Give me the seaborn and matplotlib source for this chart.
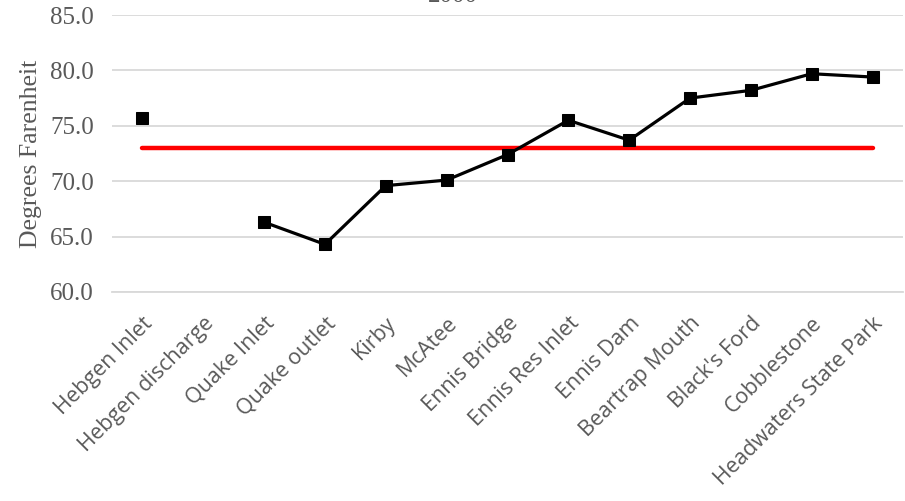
import numpy as np
import pandas as pd
import matplotlib
matplotlib.use("Agg")
import matplotlib.pyplot as plt
import seaborn as sns

# ---- data ----
categories = ["Hebgen Inlet", "Hebgen discharge", "Quake Inlet", "Quake outlet",
              "Kirby", "McAtee", "Ennis Bridge", "Ennis Res Inlet", "Ennis Dam",
              "Beartrap Mouth", "Black's Ford", "Cobblestone", "Headwaters State Park"]
temps = [75.7, np.nan, 66.3, 64.3, 69.6, 70.1, 72.4, 75.5, 73.7, 77.5, 78.2, 79.7, 79.4]
threshold = 73.0
title = "2000"
y_label = "Degrees Farenheit"
y_ticks = [60.0, 65.0, 70.0, 75.0, 80.0, 85.0]

sns.set_theme(style="white")
plt.rcParams["font.family"] = ["Liberation Serif", "DejaVu Serif"]

pos = np.arange(len(categories))
vals = np.array(temps, dtype=float)
seg = np.cumsum(np.isnan(vals))
df = pd.DataFrame({"pos": pos, "temp": vals, "seg": seg, "category": categories})
df_thr = pd.DataFrame({"pos": pos, "thr": [threshold] * len(categories)})

fig = plt.figure(figsize=(9.05, 5.01), dpi=100)
ax = fig.add_axes([112 / 905, 1 - 292 / 501, (903 - 112) / 905, (292 - 15) / 501])

grid_c = "#D9D9D9"
text_c = "#595959"

sns.lineplot(data=df_thr, x="pos", y="thr", ax=ax, color="#FF0000", linewidth=3.2,
             solid_capstyle="round", zorder=2)
sns.lineplot(data=df.dropna(), x="pos", y="temp", units="seg", estimator=None, ax=ax,
             color="black", linewidth=2.3, marker="s", markersize=8.5,
             markeredgecolor="black", zorder=3)

ax.set_xlim(-0.5, len(categories) - 0.5)
ax.set_ylim(y_ticks[0], y_ticks[-1])
ax.set_yticks(y_ticks)
ax.set_yticklabels([f"{t:.1f}" for t in y_ticks], fontsize=18, color=text_c,
                   family=["Liberation Serif"])
ax.yaxis.grid(True, color=grid_c, linewidth=1.3)
ax.set_axisbelow(True)

ax.set_xticks(pos)
ax.set_xticklabels(categories, rotation=45, ha="right", rotation_mode="anchor",
                   fontsize=15.5, color=text_c, family=["Open Sans", "DejaVu Sans"])
ax.tick_params(axis="x", which="major", length=0, pad=15)
ax.set_xticks(np.arange(len(categories) + 1) - 0.5, minor=True)
ax.tick_params(axis="x", which="minor", length=7, width=1.3, color=grid_c, direction="out")
ax.tick_params(axis="y", length=0, pad=13)

for s in ["top", "right", "left"]:
    ax.spines[s].set_visible(False)
ax.spines["bottom"].set_color(grid_c)
ax.spines["bottom"].set_linewidth(1.3)

ax.set_xlabel("")
ax.set_ylabel(y_label, fontsize=18.5, color=text_c, family=["Liberation Serif"], labelpad=6)

fig.text(0.5, 1 - 2 / 501, title, ha="center", va="baseline", fontsize=18,
         color=text_c, family=["Liberation Serif"])

fig.savefig("out.png", dpi=100)
